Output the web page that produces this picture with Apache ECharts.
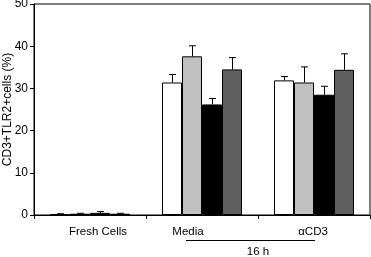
<!DOCTYPE html>
<html>
<head>
<meta charset="utf-8">
<script src="https://cdn.jsdelivr.net/npm/echarts@6/dist/echarts.min.js"></script>
<style>
  html, body { margin: 0; padding: 0; background: #fff; }
  #chart { width: 371px; height: 257px; }
</style>
</head>
<body>
<div id="chart"></div>
<script>
const categories = ["Fresh Cells", "Media", "\u03b1CD3"];
const whiteVals = [0.2, 31.4, 31.9];
const whiteErr = [0.1, 1.9, 0.9];
const lightVals = [0.3, 37.6, 31.4];
const lightErr = [0.1, 2.5, 3.7];
const blackVals = [0.5, 26.2, 28.5];
const blackErr = [0.3, 1.4, 2.0];
const darkVals = [0.3, 34.5, 34.4];
const darkErr = [0.1, 2.8, 3.8];

const colors = ["#ffffff", "#c0c0c0", "#000000", "#5f5f5f"];
const BAR_W = 20;
const FONT = "Liberation Sans, Arial";

const chart = echarts.init(document.getElementById("chart"));

const barSeries = (vals, color) => ({
  type: "bar",
  data: vals,
  barWidth: BAR_W,
  barGap: "0%",
  itemStyle: { color, borderColor: "#000", borderWidth: 1 },
  silent: true,
});

// error bars drawn with a custom series, shifted to sit on each bar
const errSeries = (vals, errs, idx) => ({
  type: "custom",
  data: vals.map((v, i) => [i, v, v + errs[i]]),
  z: 1,
  silent: true,
  renderItem: (params, api) => {
    const off = (idx - 1.5) * BAR_W;
    const low = api.coord([api.value(0), api.value(1)]);
    const high = api.coord([api.value(0), api.value(2)]);
    const x = Math.round(low[0] + off) + 0.5;
    const style = { stroke: "#000", lineWidth: 1 };
    return {
      type: "group",
      children: [
        { type: "line", shape: { x1: x, y1: low[1], x2: x, y2: high[1] }, style },
        { type: "line", shape: { x1: x - 3.5, y1: high[1], x2: x + 3.5, y2: high[1] }, style },
      ],
    };
  },
});

const option = {
  animation: false,
  grid: {
    left: 34, right: 1, top: 4, bottom: 42,
    outerBoundsMode: "none",
    show: true, borderColor: "#000", borderWidth: 1,
  },
  xAxis: {
    type: "category",
    data: [
      { value: categories[0], textStyle: { padding: [0, 0, 0, 16] } },
      { value: categories[1], textStyle: { padding: [0, 28, 0, 0] } },
      { value: categories[2], textStyle: { padding: [0, 2, 0, 0] } },
    ],
    axisLine: { lineStyle: { color: "#000", width: 1 } },
    axisTick: { show: true, length: 4, lineStyle: { color: "#000" } },
    axisLabel: { color: "#000", fontSize: 11.5, fontFamily: FONT, margin: 11 },
  },
  yAxis: {
    type: "value",
    min: 0, max: 50, interval: 10,
    name: "CD3+TLR2+cells (%)",
    nameLocation: "middle",
    nameGap: 20,
    nameMoveOverlap: false,
    nameTextStyle: { color: "#000", fontSize: 12, fontFamily: FONT },
    axisLine: { show: true, lineStyle: { color: "#000", width: 1 } },
    axisTick: { show: true, length: 4, lineStyle: { color: "#000" } },
    axisLabel: { color: "#000", fontSize: 12, fontFamily: FONT, margin: 6 },
    splitLine: { show: false },
  },
  series: [
    barSeries(whiteVals, colors[0]),
    barSeries(lightVals, colors[1]),
    barSeries(blackVals, colors[2]),
    barSeries(darkVals, colors[3]),
    errSeries(whiteVals, whiteErr, 0),
    errSeries(lightVals, lightErr, 1),
    errSeries(blackVals, blackErr, 2),
    errSeries(darkVals, darkErr, 3),
  ],
};

chart.setOption(option);

// "16 h" bracket under Media / aCD3, placed from the axis scale
const mediaX = chart.convertToPixel({ xAxisIndex: 0 }, 1);
const cd3X = chart.convertToPixel({ xAxisIndex: 0 }, 2);
const baseY = chart.convertToPixel({ yAxisIndex: 0 }, 0);
chart.setOption({
  graphic: [
    {
      type: "line",
      shape: { x1: mediaX - 16, y1: baseY + 25.5, x2: cd3X + 1, y2: baseY + 25.5 },
      style: { stroke: "#000", lineWidth: 1 },
    },
    {
      type: "text",
      x: (mediaX + cd3X) / 2, y: baseY + 37,
      style: {
        text: "16 h", fill: "#000", fontSize: 11.5, fontFamily: FONT,
        align: "center", verticalAlign: "middle",
      },
    },
  ],
});
</script>
</body>
</html>
